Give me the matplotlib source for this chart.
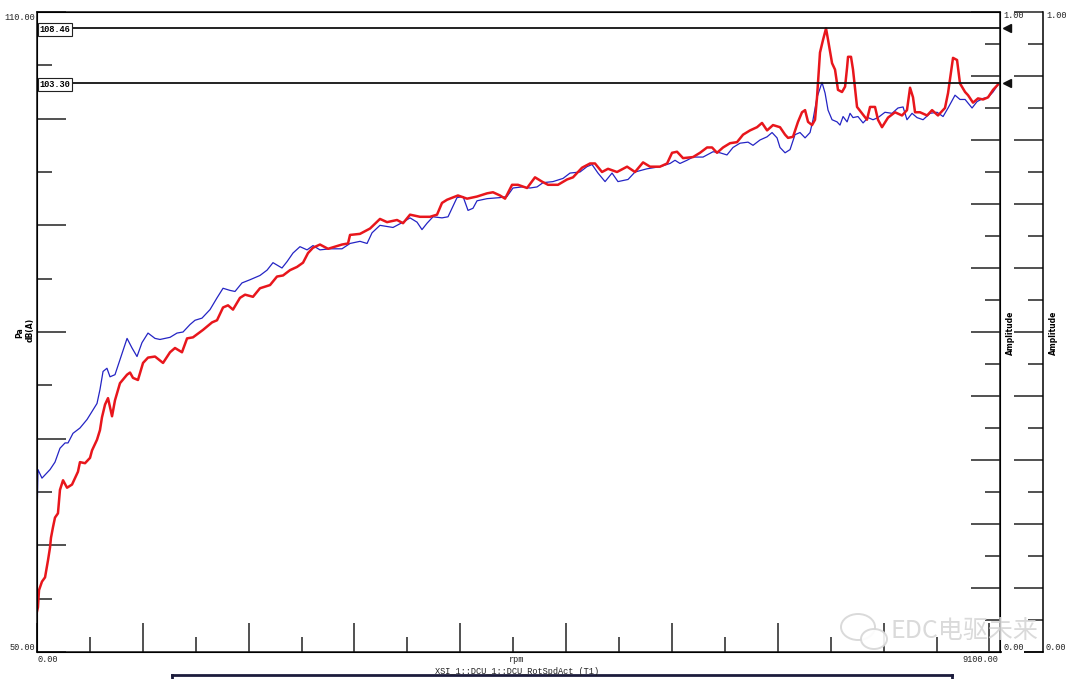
import matplotlib.pyplot as plt
import numpy as np
from matplotlib.patches import Ellipse
from matplotlib.lines import Line2D
from matplotlib.transforms import blended_transform_factory

# red trace (rpm, dB(A))
red_rpm = [0, 9, 19, 47, 76, 104, 123, 132, 151, 170, 198, 217, 246, 284, 331, 387, 406, 454, 501, 520,
           567, 595, 614, 643, 671, 709, 737, 784, 851, 879, 907, 954, 1002, 1049, 1115, 1191, 1257, 1304, 1370, 1418,
           1474, 1569, 1654, 1701, 1758, 1805, 1852, 1918, 1966, 2041, 2107, 2202, 2268, 2325, 2391, 2457, 2514, 2561, 2608, 2674,
           2750, 2816, 2882, 2939, 2958, 3052, 3147, 3241, 3308, 3402, 3459, 3525, 3619, 3714, 3780, 3827, 3875, 3978, 4064, 4158,
           4253, 4309, 4375, 4423, 4489, 4545, 4631, 4706, 4772, 4829, 4923, 5009, 5065, 5150, 5226, 5273, 5339, 5396, 5481, 5576,
           5651, 5727, 5793, 5887, 5954, 6001, 6048, 6105, 6199, 6265, 6332, 6379, 6426, 6483, 6549, 6615, 6672, 6738, 6804, 6851,
           6899, 6955, 7021, 7069, 7097, 7144, 7191, 7229, 7258, 7286, 7324, 7352, 7371, 7399, 7428, 7456, 7475, 7513, 7541, 7569,
           7607, 7636, 7655, 7664, 7692, 7711, 7749, 7796, 7843, 7872, 7919, 7947, 7985, 8042, 8108, 8174, 8221, 8250, 8278, 8297,
           8344, 8411, 8458, 8514, 8580, 8609, 8656, 8694, 8722, 8770, 8798, 8845, 8892, 8940, 8987, 9034, 9081]
red_db = [53.8, 54.2, 55.8, 56.6, 57.0, 58.6, 59.8, 60.7, 61.7, 62.6, 63.0, 65.2, 66.1, 65.4, 65.7, 66.9, 67.8, 67.7, 68.2, 68.9,
          69.9, 70.8, 72.0, 73.2, 73.8, 72.1, 73.6, 75.2, 76.0, 76.2, 75.7, 75.5, 77.1, 77.6, 77.7, 77.1, 78.1, 78.5, 78.1, 79.4,
          79.5, 80.2, 80.9, 81.1, 82.3, 82.5, 82.1, 83.2, 83.5, 83.3, 84.1, 84.4, 85.2, 85.3, 85.8, 86.1, 86.5, 87.4, 87.9, 88.2,
          87.8, 88.0, 88.2, 88.3, 89.1, 89.2, 89.7, 90.6, 90.3, 90.5, 90.2, 91.0, 90.8, 90.8, 91.0, 92.1, 92.4, 92.8, 92.5, 92.7,
          93.0, 93.1, 92.8, 92.5, 93.8, 93.8, 93.5, 94.5, 94.1, 93.8, 93.8, 94.3, 94.5, 95.4, 95.8, 95.8, 95.0, 95.3, 95.0, 95.5,
          95.0, 95.9, 95.5, 95.5, 95.8, 96.8, 96.9, 96.3, 96.4, 96.8, 97.3, 97.3, 96.8, 97.3, 97.7, 97.8, 98.5, 98.9, 99.2, 99.6,
          98.9, 99.4, 99.2, 98.5, 98.2, 98.3, 99.7, 100.6, 100.8, 99.7, 99.4, 99.9, 102.0, 106.2, 107.4, 108.46, 107.4, 105.2, 104.6, 102.7,
          102.5, 103.0, 104.8, 105.8, 105.8, 104.6, 101.1, 100.5, 99.9, 101.1, 101.1, 99.9, 99.2, 100.1, 100.6, 100.3, 100.8, 102.9, 102.0, 100.6,
          100.6, 100.3, 100.8, 100.3, 101.0, 102.4, 105.7, 105.5, 103.3, 102.5, 102.2, 101.5, 101.9, 101.8, 102.0, 102.7, 103.2]

# blue trace (rpm, dB(A))
blue_rpm = [0, 9, 47, 123, 170, 217, 265, 293, 340, 406, 473, 529, 567, 595, 624, 661, 690, 737, 784, 851,
            898, 945, 992, 1049, 1115, 1162, 1257, 1323, 1380, 1446, 1493, 1559, 1635, 1701, 1758, 1824, 1871, 1937, 2013, 2107,
            2174, 2230, 2315, 2363, 2419, 2485, 2552, 2608, 2674, 2769, 2882, 2958, 3052, 3119, 3166, 3241, 3364, 3459, 3525, 3591,
            3638, 3686, 3742, 3827, 3884, 3969, 4026, 4073, 4120, 4158, 4253, 4375, 4441, 4498, 4583, 4659, 4725, 4782, 4876, 4971,
            5037, 5131, 5197, 5245, 5301, 5368, 5434, 5490, 5585, 5651, 5764, 5887, 5982, 6029, 6076, 6142, 6199, 6294, 6388, 6454,
            6520, 6577, 6643, 6719, 6766, 6832, 6899, 6946, 6993, 7021, 7069, 7116, 7163, 7210, 7258, 7305, 7333, 7371, 7418, 7447,
            7475, 7513, 7560, 7588, 7617, 7655, 7683, 7711, 7758, 7806, 7853, 7900, 7947, 8013, 8080, 8136, 8184, 8221, 8269, 8316,
            8373, 8439, 8505, 8562, 8609, 8675, 8722, 8770, 8836, 8883, 8940, 8987, 9034, 9081]
blue_db = [62.4, 67.1, 66.3, 67.1, 67.8, 69.1, 69.6, 69.6, 70.5, 71.0, 71.8, 72.7, 73.3, 74.6, 76.3, 76.6, 75.8, 76.0, 77.4, 79.4,
           78.5, 77.7, 79.0, 79.9, 79.4, 79.3, 79.5, 79.9, 80.0, 80.7, 81.1, 81.3, 82.1, 83.2, 84.1, 83.9, 83.8, 84.6, 84.9, 85.3,
           85.8, 86.5, 86.0, 86.6, 87.4, 88.0, 87.7, 88.1, 87.7, 87.8, 87.8, 88.3, 88.5, 88.3, 89.3, 90.0, 89.8, 90.3, 90.7, 90.3,
           89.6, 90.2, 90.8, 90.7, 90.8, 92.6, 92.7, 91.4, 91.6, 92.3, 92.5, 92.6, 92.7, 93.5, 93.6, 93.5, 93.6, 94.0, 94.1, 94.4,
           94.9, 95.0, 95.5, 95.7, 94.9, 94.1, 94.9, 94.1, 94.3, 95.0, 95.3, 95.5, 95.8, 96.1, 95.8, 96.1, 96.4, 96.4, 96.9, 96.8,
           96.6, 97.3, 97.7, 97.8, 97.5, 98.0, 98.3, 98.7, 98.2, 97.3, 96.8, 97.1, 98.5, 98.7, 98.2, 98.7, 99.9, 102.0, 103.4, 102.4,
           100.8, 99.9, 99.7, 99.4, 100.2, 99.7, 100.5, 100.1, 100.2, 99.6, 100.1, 99.9, 100.1, 100.6, 100.5, 101.0, 101.1, 99.9, 100.5, 100.1,
           99.9, 100.5, 100.6, 100.2, 101.0, 102.2, 101.8, 101.8, 101.0, 101.6, 101.9, 102.0, 102.5, 103.2]

cursor_values = [108.46, 103.30]
x_max = 9100
y_min, y_max = 50, 110

W, H = 1080, 679
fig = plt.figure(figsize=(W / 100, H / 100), dpi=100)


def fx(px):
    return px / W


def fy(py):
    return 1 - py / H


mono = 'Liberation Mono'
ax = fig.add_axes([fx(37), fy(652), fx(1000) - fx(37), fy(12) - fy(652)])
ax.plot(blue_rpm, blue_db, color='#2424c4', lw=0.9)
ax.plot(red_rpm, red_db, color='#e8161c', lw=1.8)
ax.set_xlim(0, x_max)
ax.set_ylim(y_min, y_max)

ax.set_xticks(np.arange(0, x_max, 1000))
ax.set_xticks(np.arange(500, x_max, 1000), minor=True)
ax.set_yticks(np.arange(50, 111, 10))
ax.set_yticks(np.arange(55, 110, 10), minor=True)
ax.tick_params(which='major', direction='in', length=21, width=1.1, color='#222',
               labelleft=False, labelbottom=False)
ax.tick_params(which='minor', direction='in', length=11, width=1.1, color='#222')
for s in ax.spines.values():
    s.set_linewidth(1.1)
    s.set_color('#111')

# first amplitude axis on the right spine
tw = ax.twinx()
tw.set_ylim(0, 1)
tw.set_yticks(np.arange(0, 1.01, 0.1))
tw.set_yticks(np.arange(0.05, 1, 0.1), minor=True)
tw.tick_params(which='major', direction='in', length=21, width=1.1, color='#222', labelright=False)
tw.tick_params(which='minor', direction='in', length=11, width=1.1, color='#222')

# second amplitude axis
ax2 = fig.add_axes([fx(1000), fy(652), fx(1043) - fx(1000), fy(12) - fy(652)])
ax2.patch.set_visible(False)
for k in ['top', 'left']:
    ax2.spines[k].set_visible(False)
ax2.spines['right'].set_linewidth(1.1)
ax2.spines['bottom'].set_linewidth(1.1)
ax2.set_xticks([])
ax2.set_ylim(0, 1)
ax2.yaxis.tick_right()
ax2.set_yticks(np.arange(0, 1.01, 0.1))
ax2.set_yticks(np.arange(0.05, 1, 0.1), minor=True)
ax2.tick_params(which='major', direction='in', length=21, width=1.1, color='#222', labelright=False)
ax2.tick_params(which='minor', direction='in', length=11, width=1.1, color='#222')

# cursors
tr = blended_transform_factory(ax.transAxes, ax.transData)
for v in cursor_values:
    ax.axhline(v, color='#111', lw=1.3)
    ax.text(0.003, v - 0.1, f"{v:.2f}", transform=tr, va='center', ha='left', fontsize=6.2,
            family=mono, weight='bold',
            bbox=dict(boxstyle='square,pad=0.2', fc='white', ec='#222', lw=0.8))
ax.plot([1.007] * len(cursor_values), cursor_values, ls='none', marker='<', ms=5.5,
        color='#111', transform=tr, clip_on=False)

# tick labels / axis texts
tk = dict(fontsize=6.2, family=mono, color='#222')
fig.text(fx(35), fy(17), "110.00", ha='right', va='center', **tk)
fig.text(fx(35), fy(647), "50.00", ha='right', va='center', **tk)
fig.text(fx(38), fy(660), "0.00", ha='left', va='center', **tk)
fig.text(fx(998), fy(660), "9100.00", ha='right', va='center', **tk)
for xp in (1003, 1046):
    fig.text(fx(xp), fy(16), "1.00", ha='left', va='center', **tk)
    fig.text(fx(xp), fy(648), "0.00", ha='left', va='center',
             bbox=dict(boxstyle='square,pad=0.1', fc='white', ec='none'), **tk)
    fig.text(fx(xp + 7), fy(333), "Amplitude", rotation=90, ha='center', va='center',
             fontsize=5.5, weight='bold')
fig.text(fx(20), fy(333), "Pa", rotation=90, ha='center', va='center', fontsize=5.5, weight='bold')
fig.text(fx(30), fy(330), "dB(A)", rotation=90, ha='center', va='center', fontsize=5.5, weight='bold')
fig.text(fx(517), fy(659), "rpm", ha='center', va='center', **tk)
fig.text(fx(517), fy(672), "XSI_1::DCU_1::DCU_RotSpdAct (T1)", ha='center', va='center', **tk)

# legend box edge (cut off at the bottom)
box_kw = dict(color='#1c1c3c', lw=2)
fig.add_artist(Line2D([fx(172), fx(952)], [fy(675), fy(675)], **box_kw))
fig.add_artist(Line2D([fx(172), fx(172)], [fy(675), fy(680)], **box_kw))
fig.add_artist(Line2D([fx(952), fx(952)], [fy(675), fy(680)], **box_kw))

# watermark
wm = '#d6d6d6'
fig.add_artist(Ellipse((fx(858), fy(627)), 34 / W, 26 / H, fc='white', ec=wm, lw=1.4, alpha=0.9))
fig.add_artist(Ellipse((fx(874), fy(639)), 26 / W, 20 / H, fc='white', ec=wm, lw=1.4, alpha=0.9))
fig.text(fx(964), fy(632), "EDC电驱未来", ha='center', va='center', fontsize=18, color=wm,
         family=['Noto Sans CJK SC', 'DejaVu Sans'], alpha=0.9)

fig.savefig('out.png', dpi=100)
